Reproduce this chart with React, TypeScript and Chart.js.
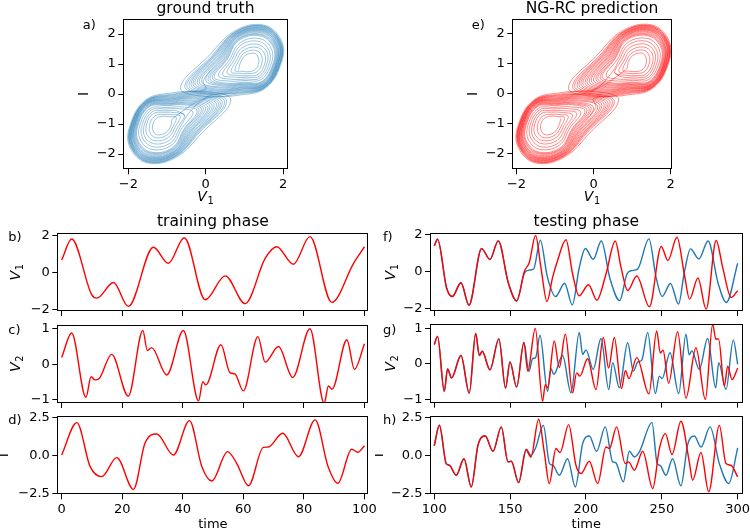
import React, { useEffect, useRef } from 'react';
import { Chart, registerables } from 'chart.js';

Chart.register(...registerables);

const FONT = "'DejaVu Sans', sans-serif";
Chart.defaults.font.family = FONT;
const MINUS = '\u2212';
const RED = '#ff0000';
const BLUE = '#1f77b4';

// ---------------- training phase (time 0-100), values read at extrema/shoulders ----------------
const trainTimeV1 = [0, 3.3, 9.9, 11.6, 17.1, 22.0, 30.3, 35.2, 40.5, 47.4, 54.0, 60.6, 67.2, 71.0, 76.5, 82.0, 89.2, 96.4, 100];
const trainV1 = [0.68, 1.82, -1.2, -1.39, -0.54, -1.84, 1.37, 0.5, 1.89, -1.48, -0.18, -1.69, 0.77, 1.4, 0.45, 1.95, -1.62, 0.5, 1.4];

const trainTimeV2 = [0, 3.3, 8.0, 9.7, 11.0, 12.4, 16.5, 22.0, 26.8, 28.3, 29.7, 34.7, 40.2, 45.2, 46.6, 47.6, 52.6, 55.6, 57.2, 60.0, 64.8, 67.2, 71.6, 76.3, 82.0, 86.7, 88.1, 89.3, 94.2, 96.7, 100];
const trainV2 = [0.19, 0.88, -0.93, -0.35, -0.44, -0.40, 0.28, -0.90, 0.95, 0.39, 0.47, -0.30, 0.95, -1.03, -0.49, -0.58, 0.55, -0.24, -0.27, -0.75, 0.78, 0.06, 0.50, -0.37, 1.00, -1.10, -0.61, -0.70, 0.69, -0.14, 0.58];

const trainTimeI = [0, 5.0, 9.4, 13.2, 18.2, 23.7, 27.5, 31.4, 36.9, 42.2, 46.3, 49.6, 54.8, 57.8, 61.7, 66.6, 68.2, 73.0, 78.2, 83.7, 88.0, 91.2, 95.8, 97.8, 100];
const trainI = [0.04, 2.15, -0.72, -1.37, -0.13, -2.20, 0.80, 1.41, 0.04, 2.28, -0.72, -1.65, 0.26, -0.50, -1.96, 0.54, 0.56, 1.46, -0.07, 2.33, -0.72, -1.80, 0.41, 0.22, 0.65];

// ---------------- testing phase (time 100-300): ground truth (blue) and NG-RC prediction (red) ----------------
const testTimeV1True = [100, 102.2, 108.1, 111.9, 117.6, 122.9, 131.2, 136.7, 142.2, 148.8, 154.3, 159.5, 162.5, 165.5, 169.9, 174.5, 180.0, 185.9, 191.0, 195.5, 199.6, 204.8, 210.1, 215.8, 222.2, 227.0, 230.0, 234.0, 241.5, 246.2, 250.2, 255.7, 261.0, 264.8, 268.9, 274.4, 280.5, 287.0, 292.5, 300];
const testV1True = [1.41, 1.77, -0.85, -1.33, -0.58, -1.80, 1.26, 0.68, 1.68, -0.58, -1.57, -0.05, 0.10, 0.16, 1.72, -0.25, -1.33, -0.61, -1.78, 0.2, 1.27, 0.68, 1.67, -0.35, -1.55, -0.11, 0.07, 0.15, 1.79, -0.29, -1.32, -0.62, -1.74, -0.04, 1.25, 0.70, 1.67, -0.58, -1.65, 0.47];
const testTimeV1Pred = [100, 102.2, 108.1, 111.9, 117.6, 122.9, 131.2, 136.7, 142.2, 148.8, 154.3, 159.5, 162.6, 166.8, 170.3, 174.3, 178.0, 181.3, 186.8, 191.2, 195.4, 201.7, 207.2, 213.2, 219.3, 223.1, 227.5, 233.5, 241.8, 249.6, 254.0, 260.0, 264.8, 268.3, 273.8, 279.2, 285.8, 290.1, 295.7, 300];
const testV1Pred = [1.41, 1.77, -0.85, -1.33, -0.58, -1.80, 1.26, 0.68, 1.68, -0.58, -1.57, 0.05, 0.50, 1.97, 0.25, -1.60, -0.29, 0.62, 1.74, -0.11, -1.29, -0.69, -1.52, -0.11, 1.67, 0.25, -1.00, -0.22, -1.88, 1.38, 0.62, 1.88, -0.11, -1.47, -0.33, -2.01, 1.70, 0.25, -1.38, -1.01];

const testTimeV2True = [100, 102.2, 106.6, 108.8, 111.4, 117.6, 123.1, 127.3, 129.7, 131.6, 136.7, 142.6, 147.0, 149.9, 154.3, 159.1, 162.4, 164.8, 166.8, 169.7, 174.7, 176.9, 178.8, 184.6, 190.1, 195.6, 197.8, 200.0, 204.8, 209.9, 215.0, 217.6, 222.0, 227.5, 231.2, 234.2, 236.8, 240.7, 245.7, 248.4, 250.2, 255.4, 261.1, 265.9, 268.0, 269.8, 274.7, 280.2, 285.5, 287.5, 292.3, 297.1, 300];
const testV2True = [0.54, 0.77, -0.78, -0.15, -0.40, 0.23, -0.83, 0.85, 0.23, 0.35, -0.17, 0.70, -0.69, 0.05, -0.66, 0.60, -0.22, 0.14, 0.17, 0.80, -0.78, -0.14, -0.30, 0.23, -0.82, 0.88, 0.26, 0.39, -0.16, 0.71, -0.73, 0.03, -0.68, 0.59, -0.21, 0.05, 0.10, 0.88, -0.84, -0.35, -0.42, 0.31, -0.84, 0.83, 0.25, 0.36, -0.16, 0.71, -0.68, 0.03, -0.73, 0.67, -0.02];
const testTimeV2Pred = [100, 102.2, 106.6, 108.8, 111.4, 117.6, 123.1, 127.3, 129.7, 131.6, 136.7, 142.6, 147.0, 149.9, 154.3, 159.1, 161.6, 166.6, 171.4, 173.2, 174.7, 179.1, 182.4, 186.4, 191.2, 193.8, 196.0, 201.1, 206.6, 211.4, 214.9, 218.7, 223.4, 226.0, 228.3, 233.5, 241.5, 246.6, 249.0, 250.8, 254.5, 260.4, 265.9, 272.5, 278.7, 283.5, 285.6, 287.4, 291.2, 293.4, 296.3, 300];
const testV2Pred = [0.54, 0.77, -0.78, -0.15, -0.40, 0.23, -0.83, 0.85, 0.23, 0.35, -0.17, 0.70, -0.69, 0.05, -0.66, 0.60, -0.21, 0.99, -1.06, -0.59, -0.68, 0.64, -0.11, 0.83, -0.82, -0.26, -0.35, 0.14, -0.73, 0.74, -0.12, 0.74, -0.70, -0.20, -0.42, 0.17, -0.85, 0.92, 0.30, 0.38, -0.55, 0.90, -0.97, 0.45, -1.01, 1.11, 0.69, 0.70, -0.63, -0.07, -0.45, -0.12];

const testTimeITrue = [100, 103.4, 107.9, 110.1, 114.5, 119.6, 124.4, 128.8, 133.6, 138.7, 144.2, 148.6, 150.8, 155.6, 160.7, 163.6, 166.8, 171.9, 176.0, 178.3, 182.4, 187.9, 193.0, 197.8, 202.2, 207.0, 212.7, 217.6, 219.5, 224.6, 228.6, 231.9, 235.2, 243.5, 246.9, 249.0, 252.7, 257.1, 262.6, 267.0, 271.4, 275.8, 281.8, 287.9, 294.1, 300];
const testITrue = [0.64, 1.98, -0.52, -0.63, -1.28, -0.20, -2.04, 0.67, 1.28, 0.28, 1.87, -0.41, -0.37, -1.76, 0.41, 0.02, 0.50, 1.97, -0.52, -0.63, -1.28, -0.20, -2.04, 0.78, 1.28, 0.28, 1.87, -0.41, -0.45, -1.71, 0.28, -0.09, 0.24, 2.15, -0.50, -0.65, -1.28, -0.20, -1.97, 0.70, 1.28, 0.56, 1.87, -0.52, -1.82, 0.50];
const testTimeIPred = [100, 103.4, 107.9, 110.1, 114.5, 119.6, 124.4, 128.8, 133.6, 138.7, 144.2, 148.6, 150.8, 155.6, 160.5, 163.7, 168.8, 172.5, 175.8, 180.2, 182.9, 188.6, 193.4, 196.7, 202.2, 207.7, 213.2, 215.4, 220.2, 225.9, 228.1, 231.9, 237.4, 244.0, 248.4, 252.3, 256.7, 262.6, 268.1, 270.3, 275.8, 280.9, 287.9, 292.3, 295.6, 300];
const testIPred = [0.64, 1.98, -0.52, -0.63, -1.28, -0.20, -2.04, 0.67, 1.28, 0.28, 1.87, -0.41, -0.37, -1.76, 0.38, -0.09, 2.37, 0.24, -1.82, 0.46, 0.20, 2.02, -0.63, -1.17, -0.37, -1.82, 0.56, 0.46, 1.87, -0.52, -0.41, -0.95, 0.28, -2.15, 0.46, 1.43, 0.07, 2.24, -0.41, -1.60, 0.20, -2.36, 1.97, -0.52, -0.63, -1.39];

// ---------------- phase portraits (V1, I): loops ----------------
type P = [number, number];
// right lobe (around V1≈1.1, I≈1.0), inner → outer
const R00: P[] = [[0.85, 0.82], [0.90, 1.05], [1.02, 1.28], [1.25, 1.36], [1.36, 1.22], [1.36, 0.98], [1.26, 0.80], [1.08, 0.74], [0.92, 0.76]];
const R0a: P[] = [[0.76, 0.78], [0.84, 1.07], [0.99, 1.36], [1.28, 1.46], [1.44, 1.29], [1.44, 0.98], [1.31, 0.73], [1.08, 0.68], [0.87, 0.69]];
const R01: P[] = [[0.66, 0.74], [0.78, 1.08], [0.96, 1.44], [1.30, 1.56], [1.52, 1.35], [1.52, 0.98], [1.35, 0.65], [1.07, 0.61], [0.81, 0.62]];
const R1a: P[] = [[0.55, 0.70], [0.72, 1.10], [0.93, 1.53], [1.33, 1.66], [1.58, 1.41], [1.58, 1.00], [1.38, 0.59], [1.05, 0.56], [0.75, 0.56]];
const R02: P[] = [[0.44, 0.65], [0.66, 1.11], [0.90, 1.62], [1.35, 1.76], [1.63, 1.47], [1.64, 1.01], [1.40, 0.53], [1.03, 0.50], [0.68, 0.49]];
const R2a: P[] = [[0.33, 0.61], [0.61, 1.13], [0.88, 1.70], [1.38, 1.85], [1.69, 1.53], [1.70, 1.03], [1.43, 0.48], [1.01, 0.45], [0.61, 0.43]];
const R03: P[] = [[0.22, 0.56], [0.55, 1.15], [0.85, 1.78], [1.40, 1.94], [1.74, 1.58], [1.75, 1.04], [1.45, 0.42], [0.98, 0.39], [0.54, 0.36]];
const R3a: P[] = [[0.17, 0.54], [0.53, 1.16], [0.84, 1.81], [1.41, 1.97], [1.76, 1.60], [1.77, 1.05], [1.46, 0.40], [0.97, 0.36], [0.51, 0.33]];
const R04: P[] = [[0.11, 0.51], [0.50, 1.17], [0.83, 1.83], [1.42, 2.00], [1.78, 1.62], [1.79, 1.05], [1.47, 0.38], [0.96, 0.33], [0.47, 0.30]];
const R4a: P[] = [[0.06, 0.49], [0.47, 1.18], [0.82, 1.86], [1.43, 2.04], [1.80, 1.64], [1.81, 1.06], [1.48, 0.36], [0.95, 0.31], [0.44, 0.27]];
const R05: P[] = [[0.00, 0.47], [0.44, 1.19], [0.81, 1.89], [1.44, 2.07], [1.81, 1.66], [1.83, 1.06], [1.49, 0.34], [0.94, 0.28], [0.41, 0.23]];
const R5a: P[] = [[-0.06, 0.45], [0.41, 1.20], [0.81, 1.91], [1.45, 2.10], [1.83, 1.67], [1.84, 1.07], [1.50, 0.33], [0.93, 0.25], [0.38, 0.20]];
const R06: P[] = [[-0.11, 0.42], [0.38, 1.21], [0.80, 1.93], [1.45, 2.12], [1.84, 1.68], [1.85, 1.07], [1.50, 0.31], [0.91, 0.22], [0.34, 0.16]];
const R6a: P[] = [[-0.17, 0.40], [0.36, 1.22], [0.80, 1.95], [1.46, 2.14], [1.86, 1.70], [1.87, 1.08], [1.51, 0.30], [0.90, 0.20], [0.31, 0.13]];
const R07: P[] = [[-0.22, 0.38], [0.33, 1.23], [0.79, 1.97], [1.46, 2.16], [1.87, 1.71], [1.88, 1.08], [1.51, 0.29], [0.89, 0.17], [0.27, 0.10]];
const R7a: P[] = [[-0.28, 0.36], [0.30, 1.24], [0.79, 1.99], [1.47, 2.18], [1.88, 1.73], [1.89, 1.08], [1.52, 0.28], [0.88, 0.15], [0.24, 0.07]];
const R08: P[] = [[-0.33, 0.34], [0.27, 1.25], [0.78, 2.00], [1.47, 2.20], [1.89, 1.74], [1.90, 1.08], [1.52, 0.26], [0.87, 0.12], [0.20, 0.04]];
const R8a: P[] = [[-0.38, 0.32], [0.24, 1.26], [0.78, 2.02], [1.48, 2.22], [1.90, 1.75], [1.92, 1.09], [1.53, 0.25], [0.86, 0.09], [0.17, 0.01]];
const R09: P[] = [[-0.43, 0.29], [0.21, 1.26], [0.77, 2.04], [1.48, 2.24], [1.91, 1.76], [1.93, 1.09], [1.53, 0.24], [0.85, 0.06], [0.14, -0.02]];
const R9a: P[] = [[-0.49, 0.27], [0.19, 1.27], [0.77, 2.06], [1.49, 2.26], [1.92, 1.77], [1.94, 1.10], [1.54, 0.23], [0.84, 0.03], [0.11, -0.06]];
const R10: P[] = [[-0.54, 0.25], [0.16, 1.28], [0.76, 2.07], [1.49, 2.27], [1.93, 1.78], [1.95, 1.10], [1.54, 0.22], [0.83, 0.00], [0.07, -0.09]];
const R11: P[] = [[-0.65, 0.20], [0.10, 1.30], [0.75, 2.10], [1.50, 2.30], [1.95, 1.80], [1.97, 1.10], [1.55, 0.20], [0.80, -0.05], [0.00, -0.15]];

// left lobe (around V1≈-1.1, I≈-1.0), inner → outer
const L00: P[] = [[-0.85, -0.82], [-0.90, -1.05], [-1.02, -1.28], [-1.25, -1.36], [-1.36, -1.22], [-1.36, -0.98], [-1.26, -0.80], [-1.08, -0.74], [-0.92, -0.76]];
const L0a: P[] = [[-0.76, -0.78], [-0.84, -1.07], [-0.99, -1.36], [-1.28, -1.46], [-1.44, -1.29], [-1.44, -0.98], [-1.31, -0.73], [-1.08, -0.68], [-0.87, -0.69]];
const L01: P[] = [[-0.66, -0.74], [-0.78, -1.08], [-0.96, -1.44], [-1.30, -1.56], [-1.52, -1.35], [-1.52, -0.98], [-1.35, -0.65], [-1.07, -0.61], [-0.81, -0.62]];
const L1a: P[] = [[-0.55, -0.70], [-0.72, -1.10], [-0.93, -1.53], [-1.33, -1.66], [-1.58, -1.41], [-1.58, -1.00], [-1.38, -0.59], [-1.05, -0.56], [-0.75, -0.56]];
const L02: P[] = [[-0.44, -0.65], [-0.66, -1.11], [-0.90, -1.62], [-1.35, -1.76], [-1.63, -1.47], [-1.64, -1.01], [-1.40, -0.53], [-1.03, -0.50], [-0.68, -0.49]];
const L2a: P[] = [[-0.33, -0.61], [-0.61, -1.13], [-0.88, -1.70], [-1.38, -1.85], [-1.69, -1.53], [-1.70, -1.03], [-1.43, -0.48], [-1.01, -0.45], [-0.61, -0.43]];
const L03: P[] = [[-0.22, -0.56], [-0.55, -1.15], [-0.85, -1.78], [-1.40, -1.94], [-1.74, -1.58], [-1.75, -1.04], [-1.45, -0.42], [-0.98, -0.39], [-0.54, -0.36]];
const L3a: P[] = [[-0.17, -0.54], [-0.53, -1.16], [-0.84, -1.81], [-1.41, -1.97], [-1.76, -1.60], [-1.77, -1.05], [-1.46, -0.40], [-0.97, -0.36], [-0.51, -0.33]];
const L04: P[] = [[-0.11, -0.51], [-0.50, -1.17], [-0.83, -1.83], [-1.42, -2.00], [-1.78, -1.62], [-1.79, -1.05], [-1.47, -0.38], [-0.96, -0.33], [-0.47, -0.30]];
const L4a: P[] = [[-0.06, -0.49], [-0.47, -1.18], [-0.82, -1.86], [-1.43, -2.04], [-1.80, -1.64], [-1.81, -1.06], [-1.48, -0.36], [-0.95, -0.31], [-0.44, -0.27]];
const L05: P[] = [[0.00, -0.47], [-0.44, -1.19], [-0.81, -1.89], [-1.44, -2.07], [-1.81, -1.66], [-1.83, -1.06], [-1.49, -0.34], [-0.94, -0.28], [-0.41, -0.23]];
const L5a: P[] = [[0.06, -0.45], [-0.41, -1.20], [-0.81, -1.91], [-1.45, -2.10], [-1.83, -1.67], [-1.84, -1.07], [-1.50, -0.33], [-0.93, -0.25], [-0.38, -0.20]];
const L06: P[] = [[0.11, -0.42], [-0.38, -1.21], [-0.80, -1.93], [-1.45, -2.12], [-1.84, -1.68], [-1.85, -1.07], [-1.50, -0.31], [-0.91, -0.22], [-0.34, -0.16]];
const L6a: P[] = [[0.17, -0.40], [-0.36, -1.22], [-0.80, -1.95], [-1.46, -2.14], [-1.86, -1.70], [-1.87, -1.08], [-1.51, -0.30], [-0.90, -0.20], [-0.31, -0.13]];
const L07: P[] = [[0.22, -0.38], [-0.33, -1.23], [-0.79, -1.97], [-1.46, -2.16], [-1.87, -1.71], [-1.88, -1.08], [-1.51, -0.29], [-0.89, -0.17], [-0.27, -0.10]];
const L7a: P[] = [[0.28, -0.36], [-0.30, -1.24], [-0.79, -1.99], [-1.47, -2.18], [-1.88, -1.73], [-1.89, -1.08], [-1.52, -0.28], [-0.88, -0.15], [-0.24, -0.07]];
const L08: P[] = [[0.33, -0.34], [-0.27, -1.25], [-0.78, -2.00], [-1.47, -2.20], [-1.89, -1.74], [-1.90, -1.08], [-1.52, -0.26], [-0.87, -0.12], [-0.20, -0.04]];
const L8a: P[] = [[0.38, -0.32], [-0.24, -1.26], [-0.78, -2.02], [-1.48, -2.22], [-1.90, -1.75], [-1.92, -1.09], [-1.53, -0.25], [-0.86, -0.09], [-0.17, -0.01]];
const L09: P[] = [[0.43, -0.29], [-0.21, -1.26], [-0.77, -2.04], [-1.48, -2.24], [-1.91, -1.76], [-1.93, -1.09], [-1.53, -0.24], [-0.85, -0.06], [-0.14, 0.02]];
const L9a: P[] = [[0.49, -0.27], [-0.19, -1.27], [-0.77, -2.06], [-1.49, -2.26], [-1.92, -1.77], [-1.94, -1.10], [-1.54, -0.23], [-0.84, -0.03], [-0.11, 0.06]];
const L10: P[] = [[0.54, -0.25], [-0.16, -1.28], [-0.76, -2.07], [-1.49, -2.27], [-1.93, -1.78], [-1.95, -1.10], [-1.54, -0.22], [-0.83, 0.00], [-0.07, 0.09]];
const L11: P[] = [[0.65, -0.20], [-0.10, -1.30], [-0.75, -2.10], [-1.50, -2.30], [-1.95, -1.80], [-1.97, -1.10], [-1.55, -0.20], [-0.80, 0.05], [0.00, 0.15]];

const truthLoopOrder = [R00, R0a, R01, R1a, R02, R2a, R03, R3a, R04, R4a, R05, R06, R07, R08, R09, R10, R11,
  L02, L2a, L03, L3a, L04, L4a, L05, L5a, L06, L6a, L07, L7a, L08, L8a, L09, L9a, L10, L11,
  R5a, R6a, R7a, R8a, R9a, L00, L0a, L01, L1a];
const predLoopOrder = [L00, L0a, L01, L1a, L02, L2a, L03, L3a, L04, L4a, L05, L06, L07, L08, L09, L10, L11,
  R02, R2a, R03, R3a, R04, R4a, R05, R5a, R06, R6a, R07, R7a, R08, R8a, R09, R9a, R10, R11,
  L5a, L6a, L7a, L8a, L9a, R00, R0a, R01, R1a];

// tick values
const phaseTicks = [-2, 0, 2];
const phaseYTicks = [-2, -1, 0, 1, 2];
const trainTicks = [0, 20, 40, 60, 80, 100];
const testTicks = [100, 150, 200, 250, 300];
const v1Ticks = [-2, 0, 2];
const v2Ticks = [-1, 0, 1];
const iTicks = [-2.5, 0, 2.5];

// ---------------- helpers ----------------
const fmtInt = (v: number) => (v < 0 ? MINUS + String(Math.abs(v)) : String(v));
const fmt1 = (v: number) => (v < 0 ? MINUS : '') + Math.abs(v).toFixed(1);

function loopTrajectory(order: P[][]) {
  const xs: number[] = [];
  const ys: number[] = [];
  order.forEach((loop) => loop.forEach(([x, y]) => { xs.push(x); ys.push(y); }));
  const first = order[order.length - 1][0];
  xs.push(first[0]);
  ys.push(first[1]);
  return { xs, ys };
}

type Txt = { s: string; sub?: string; italic?: boolean; x: number; y: number; size: number; align?: CanvasTextAlign; rot?: boolean };
type Series = { xs: number[]; ys: number[]; color: string; width: number; mono: boolean };
type Spec = {
  id: string;
  box: [number, number, number, number];
  area: [number, number, number, number];
  xr: [number, number];
  yr: [number, number];
  xt: number[];
  yt: number[];
  xl: boolean;
  yfmt: (v: number) => string;
  series: Series[];
  texts: Txt[];
};

const gt = loopTrajectory(truthLoopOrder);
const pr = loopTrajectory(predLoopOrder);

const LX: [number, number] = [57.3, 368.4];
const RX: [number, number] = [430, 742.7];
const TITLE = 15.5;
const LAB = 13;
const AX = 14;

const PANELS: Spec[] = [
  {
    id: 'a', box: [60, 0, 240, 210], area: [123.3, 18.7, 287.7, 169.3],
    xr: [-2.13, 2.12], yr: [-2.51, 2.51], xt: phaseTicks, yt: phaseYTicks, xl: true, yfmt: fmtInt,
    series: [{ xs: gt.xs, ys: gt.ys, color: 'rgba(31,119,180,0.8)', width: 0.55, mono: false }],
    texts: [
      { s: 'ground truth', x: 205.5, y: 12.5, size: TITLE },
      { s: 'a)', x: 82.7, y: 29, size: LAB, align: 'left' },
      { s: 'V', sub: '1', italic: true, x: 205.5, y: 201, size: AX },
      { s: 'I', x: 84.5, y: 94, size: AX, rot: true },
    ],
  },
  {
    id: 'e', box: [450, 0, 240, 210], area: [512.3, 18.5, 671.7, 169.3],
    xr: [-2.11, 2.03], yr: [-2.51, 2.51], xt: phaseTicks, yt: phaseYTicks, xl: true, yfmt: fmtInt,
    series: [{ xs: pr.xs, ys: pr.ys, color: 'rgba(255,0,0,0.85)', width: 0.55, mono: false }],
    texts: [
      { s: 'NG-RC prediction', x: 592, y: 12.5, size: TITLE },
      { s: 'e)', x: 471.7, y: 29, size: LAB, align: 'left' },
      { s: 'V', sub: '1', italic: true, x: 592, y: 201, size: AX },
      { s: 'I', x: 473, y: 94, size: AX, rot: true },
    ],
  },
  {
    id: 'b', box: [0, 205, 380, 120], area: [LX[0], 233.3, LX[1], 311],
    xr: [-1.45, 101.3], yr: [-2.09, 2.13], xt: trainTicks, yt: v1Ticks, xl: false, yfmt: fmtInt,
    series: [{ xs: trainTimeV1, ys: trainV1, color: RED, width: 1.4, mono: true }],
    texts: [
      { s: 'training phase', x: 212.9, y: 226, size: TITLE },
      { s: 'b)', x: 8.3, y: 241, size: LAB, align: 'left' },
      { s: 'V', sub: '1', italic: true, x: 14.7, y: 272.2, size: AX, rot: true },
    ],
  },
  {
    id: 'c', box: [0, 314, 380, 96], area: [LX[0], 324.5, LX[1], 403],
    xr: [-1.45, 101.3], yr: [-1.09, 1.12], xt: trainTicks, yt: v2Ticks, xl: false, yfmt: fmtInt,
    series: [{ xs: trainTimeV2, ys: trainV2, color: RED, width: 1.4, mono: true }],
    texts: [
      { s: 'c)', x: 8.3, y: 334.3, size: LAB, align: 'left' },
      { s: 'V', sub: '2', italic: true, x: 14.7, y: 363.8, size: AX, rot: true },
    ],
  },
  {
    id: 'd', box: [0, 406, 380, 125], area: [LX[0], 416, LX[1], 494.3],
    xr: [-1.45, 101.3], yr: [-2.52, 2.58], xt: trainTicks, yt: iTicks, xl: true, yfmt: fmt1,
    series: [{ xs: trainTimeI, ys: trainI, color: RED, width: 1.4, mono: true }],
    texts: [
      { s: 'd)', x: 8.3, y: 424.3, size: LAB, align: 'left' },
      { s: 'I', x: 4.5, y: 455.2, size: AX, rot: true },
      { s: 'time', x: 212.9, y: 528, size: LAB },
    ],
  },
  {
    id: 'f', box: [375, 205, 375, 120], area: [RX[0], 233.3, RX[1], 311],
    xr: [97.2, 303.3], yr: [-2.11, 2.09], xt: testTicks, yt: v1Ticks, xl: false, yfmt: fmtInt,
    series: [
      { xs: testTimeV1Pred, ys: testV1Pred, color: RED, width: 1.4, mono: true },
      { xs: testTimeV1True, ys: testV1True, color: BLUE, width: 1.4, mono: true },
    ],
    texts: [
      { s: 'testing phase', x: 586.3, y: 226, size: TITLE },
      { s: 'f)', x: 383, y: 241, size: LAB, align: 'left' },
      { s: 'V', sub: '1', italic: true, x: 389.7, y: 272.2, size: AX, rot: true },
    ],
  },
  {
    id: 'g', box: [375, 314, 375, 96], area: [RX[0], 324.3, RX[1], 402.7],
    xr: [97.2, 303.3], yr: [-1.1, 1.11], xt: testTicks, yt: v2Ticks, xl: false, yfmt: fmtInt,
    series: [
      { xs: testTimeV2Pred, ys: testV2Pred, color: RED, width: 1.4, mono: true },
      { xs: testTimeV2True, ys: testV2True, color: BLUE, width: 1.4, mono: true },
    ],
    texts: [
      { s: 'g)', x: 383, y: 334.3, size: LAB, align: 'left' },
      { s: 'V', sub: '2', italic: true, x: 389.7, y: 363.5, size: AX, rot: true },
    ],
  },
  {
    id: 'h', box: [375, 406, 375, 125], area: [RX[0], 416, RX[1], 494.3],
    xr: [97.2, 303.3], yr: [-2.52, 2.58], xt: testTicks, yt: iTicks, xl: true, yfmt: fmt1,
    series: [
      { xs: testTimeIPred, ys: testIPred, color: RED, width: 1.4, mono: true },
      { xs: testTimeITrue, ys: testITrue, color: BLUE, width: 1.4, mono: true },
    ],
    texts: [
      { s: 'h)', x: 383, y: 424.3, size: LAB, align: 'left' },
      { s: 'I', x: 379, y: 455.2, size: AX, rot: true },
      { s: 'time', x: 586.3, y: 528, size: LAB },
    ],
  },
];

function drawText(ctx: CanvasRenderingContext2D, tx: Txt) {
  const mainFont = `${tx.italic ? 'italic ' : ''}${tx.size}px ${FONT}`;
  if (!tx.sub) {
    ctx.font = mainFont;
    ctx.textAlign = tx.align ?? 'center';
    ctx.textBaseline = tx.rot ? 'middle' : 'alphabetic';
    ctx.fillText(tx.s, 0, 0);
    return;
  }
  const subSize = tx.size * 0.7;
  const subFont = `${subSize}px ${FONT}`;
  ctx.font = mainFont;
  const wMain = ctx.measureText(tx.s).width;
  ctx.font = subFont;
  const wSub = ctx.measureText(tx.sub).width;
  const gap = tx.size * 0.05;
  const total = wMain + wSub + gap;
  const x0 = -total / 2;
  const base = tx.rot ? tx.size * 0.36 : 0;
  ctx.textAlign = 'left';
  ctx.textBaseline = 'alphabetic';
  ctx.font = mainFont;
  ctx.fillText(tx.s, x0, base);
  ctx.font = subFont;
  ctx.fillText(tx.sub, x0 + wMain + gap, base + tx.size * 0.2);
}

function decoPlugin(p: Spec) {
  const [cl, ct] = p.box;
  return {
    id: 'deco_' + p.id,
    afterDraw(chart: any) {
      const ctx: CanvasRenderingContext2D = chart.ctx;
      const a = chart.chartArea;
      ctx.save();
      ctx.strokeStyle = '#000';
      ctx.lineWidth = 1;
      const l = Math.round(a.left) + 0.5;
      const t = Math.round(a.top) + 0.5;
      const r = Math.round(a.right) - 0.5;
      const b = Math.round(a.bottom) - 0.5;
      ctx.strokeRect(l, t, r - l, b - t);
      ctx.fillStyle = '#000';
      for (const tx of p.texts) {
        ctx.save();
        ctx.translate(tx.x - cl, tx.y - ct);
        if (tx.rot) ctx.rotate(-Math.PI / 2);
        drawText(ctx, tx);
        ctx.restore();
      }
      ctx.restore();
    },
  };
}

function makeConfig(p: Spec): any {
  const [cl, ct, cw, ch] = p.box;
  const [al, at, ar, ab] = p.area;
  const tickFont = { family: FONT, size: 13 };
  return {
    type: 'scatter',
    data: {
      datasets: p.series.map((s) => ({
        data: s.xs.map((x, i) => ({ x, y: s.ys[i] })),
        showLine: true,
        fill: false,
        borderColor: s.color,
        backgroundColor: s.color,
        borderWidth: s.width,
        pointRadius: 0,
        pointHoverRadius: 0,
        tension: s.mono ? 0 : 0.4,
        cubicInterpolationMode: s.mono ? 'monotone' : 'default',
      })),
    },
    options: {
      animation: false,
      responsive: false,
      maintainAspectRatio: false,
      devicePixelRatio: 1,
      events: [],
      layout: { padding: { left: 0, top: at - ct, right: cl + cw - ar, bottom: 0 } },
      plugins: { legend: { display: false }, tooltip: { enabled: false }, title: { display: false } },
      scales: {
        x: {
          type: 'linear',
          min: p.xr[0],
          max: p.xr[1],
          afterBuildTicks: (s: any) => { s.ticks = p.xt.map((v) => ({ value: v })); },
          afterFit: (s: any) => { s.height = ct + ch - ab; s.paddingLeft = 0; s.paddingRight = 0; },
          ticks: {
            autoSkip: false, maxRotation: 0, minRotation: 0, padding: 3, color: '#000', font: tickFont,
            callback: (v: number) => (p.xl ? fmtInt(v) : ''),
          },
          grid: { display: true, drawOnChartArea: false, drawTicks: true, tickLength: 5, tickWidth: 1, color: '#000', tickColor: '#000' },
          border: { display: false },
        },
        y: {
          type: 'linear',
          min: p.yr[0],
          max: p.yr[1],
          afterBuildTicks: (s: any) => { s.ticks = p.yt.map((v) => ({ value: v })); },
          afterFit: (s: any) => { s.width = al - cl; s.paddingTop = 0; s.paddingBottom = 0; },
          ticks: {
            autoSkip: false, padding: 2.5, color: '#000', font: tickFont,
            callback: (v: number) => p.yfmt(v),
          },
          grid: { display: true, drawOnChartArea: false, drawTicks: true, tickLength: 5, tickWidth: 1, color: '#000', tickColor: '#000' },
          border: { display: false },
        },
      },
    },
    plugins: [decoPlugin(p)],
  };
}

function Panel({ spec }: { spec: Spec }) {
  const ref = useRef<HTMLCanvasElement>(null);
  useEffect(() => {
    if (!ref.current) return;
    const chart = new Chart(ref.current, makeConfig(spec));
    return () => chart.destroy();
  }, [spec]);
  const [l, t, w, h] = spec.box;
  return (
    <canvas
      ref={ref}
      width={w}
      height={h}
      style={{ position: 'absolute', left: l, top: t, width: w, height: h }}
    />
  );
}

export default function App() {
  return (
    <div style={{ position: 'fixed', left: 0, top: 0, width: 750, height: 531, overflow: 'hidden', background: '#fff' }}>
      {PANELS.map((p) => (
        <Panel key={p.id} spec={p} />
      ))}
    </div>
  );
}
